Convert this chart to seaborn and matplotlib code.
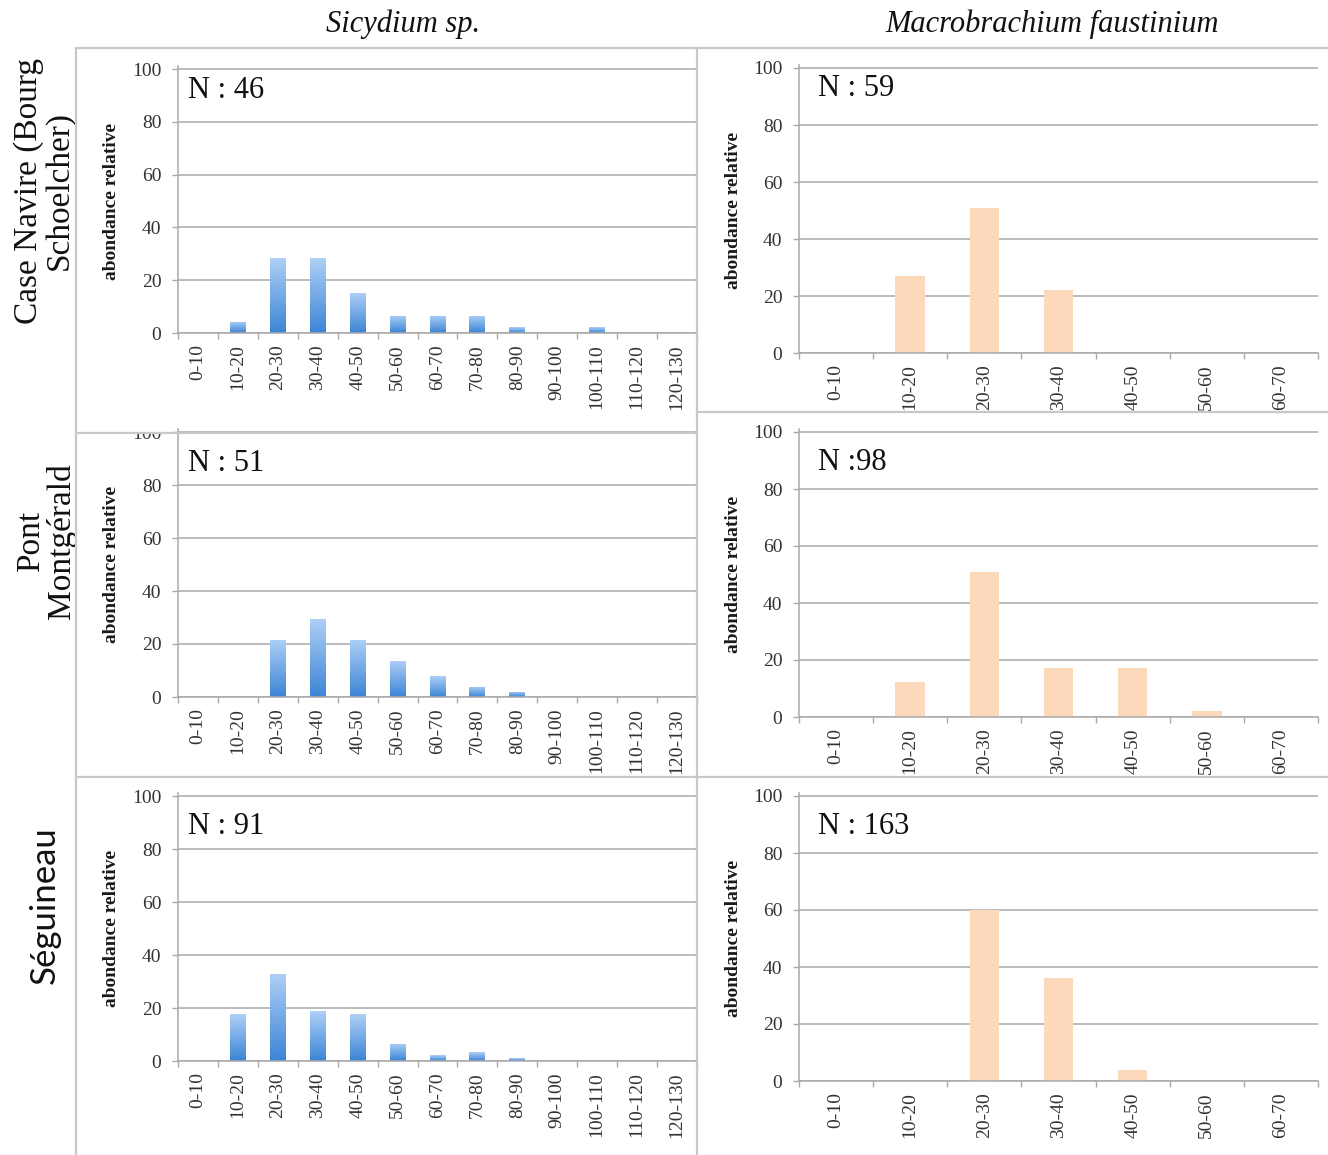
import numpy as np
import pandas as pd
import matplotlib
matplotlib.use("Agg")
import matplotlib.pyplot as plt
from matplotlib.colors import LinearSegmentedColormap
from matplotlib.lines import Line2D
from matplotlib.transforms import Bbox, TransformedBbox
import seaborn as sns

# Size classes (mm)
sicydium_classes = ["0-10", "10-20", "20-30", "30-40", "40-50", "50-60", "60-70",
                    "70-80", "80-90", "90-100", "100-110", "110-120", "120-130"]
macro_classes = ["0-10", "10-20", "20-30", "30-40", "40-50", "50-60", "60-70"]

species_titles = ["Sicydium sp.", "Macrobrachium faustinium"]
site_labels = ["Case Navire (Bourg\nSchoelcher)", "Pont\nMontgérald", "Séguineau"]

# Relative abundance (%) per size class
sicydium_case_navire = [0, 4.3, 28.3, 28.3, 15.2, 6.5, 6.5, 6.5, 2.2, 0, 2.2, 0, 0]
sicydium_pont = [0, 0, 21.6, 29.4, 21.6, 13.7, 7.8, 3.9, 2.0, 0, 0, 0, 0]
sicydium_seguineau = [0, 17.6, 33.0, 18.7, 17.6, 6.6, 2.2, 3.3, 1.1, 0, 0, 0, 0]

macro_case_navire = [0, 27.1, 50.8, 22.0, 0, 0, 0]
macro_pont = [0, 12.2, 51.0, 17.3, 17.3, 2.0, 0]
macro_seguineau = [0, 0, 60.1, 36.2, 3.7, 0, 0]

sicydium_n = ["N : 46", "N : 51", "N : 91"]
macro_n = ["N : 59", "N :98", "N : 163"]

y_ticks = [0, 20, 40, 60, 80, 100]
y_label = "abondance relative"

sns.set_theme(style="white")
plt.rcParams["font.family"] = ["Liberation Serif", "DejaVu Serif"]

W, H = 1328, 1155
fig = plt.figure(figsize=(W / 100, H / 100), dpi=100)
fig.patch.set_facecolor("white")


def fx(px):
    return px / W


def fy(py):
    return 1 - py / H


GRID = "#a9a9a9"
BORDER = "#c8c8c8"
TICKTXT = "#333333"
BLUE_GRAD = ["#3c84d6", "#aed0f6"]  # bottom -> top
PEACH = "#fcd9ba"

# panel layout in pixels: (axes x0, x1, y100, y0, box x0, x1, y0, y1)
left_geo = [(178, 697, 69, 333, 76, 697, 48, 433),
            (178, 697, 432, 697, 76, 697, 433, 777),
            (178, 697, 796, 1061, 76, 697, 777, 1155)]
right_geo = [(799, 1318, 68, 353, 697, 1328, 48, 412),
             (799, 1318, 432, 717, 697, 1328, 412, 777),
             (799, 1318, 796, 1081, 697, 1328, 777, 1155)]
n_offsets = [-21, -31, -30]


def draw_panel(geo, classes, values, color, gradient, n_text, n_off, ylab_x):
    ax_x0, ax_x1, y100, y0 = geo[:4]
    top = y100 - (y0 - y100) * 0.01
    ax = fig.add_axes([fx(ax_x0), fy(y0), (ax_x1 - ax_x0) / W, (y0 - top) / H])
    ax.set_facecolor("none")
    df = pd.DataFrame({"classe": classes, "abondance": values})
    sns.barplot(data=df, x="classe", y="abondance", order=classes, color=color,
                width=0.4, saturation=1, edgecolor="none", linewidth=0, ax=ax,
                zorder=3)
    n = len(classes)
    if gradient is not None:
        cmap = LinearSegmentedColormap.from_list("bar_grad", gradient)
        grad = np.linspace(0, 1, 256).reshape(-1, 1)
        for p in ax.patches:
            x, y = p.get_x(), p.get_y()
            w, h = p.get_width(), p.get_height()
            if h <= 0:
                continue
            im = ax.imshow(grad, extent=[x, x + w, y, y + h], origin="lower",
                           aspect="auto", cmap=cmap, zorder=3.5,
                           interpolation="bilinear")
            im.set_clip_path(p)
    ax.set_xlim(-0.5, n - 0.5)
    ax.set_ylim(0, 101)
    ax.set_yticks(y_ticks)
    ax.set_xticks(range(n))
    ax.set_xticklabels(classes)
    ax.set_xticks(np.arange(-0.5, n, 1), minor=True)
    ax.yaxis.grid(True, color=GRID, linewidth=1.1)
    ax.xaxis.grid(False)
    ax.set_axisbelow(True)
    for s in ["top", "right"]:
        ax.spines[s].set_visible(False)
    for s in ["left", "bottom"]:
        ax.spines[s].set_color(GRID)
        ax.spines[s].set_linewidth(1.1)
        ax.spines[s].set_zorder(4)
    ax.tick_params(axis="x", which="major", length=0, pad=8, labelsize=14,
                   labelcolor=TICKTXT, labelrotation=90)
    ax.tick_params(axis="x", which="minor", length=4.5, width=1.0, color=GRID,
                   direction="out", bottom=True)
    ax.tick_params(axis="y", which="major", length=4, width=1.0, color=GRID,
                   direction="out", left=True, pad=8, labelsize=14,
                   labelcolor=TICKTXT)
    ax.set_xlabel("")
    ax.set_ylabel(y_label, fontsize=14, fontweight="bold", color="#1a1a1a")
    ax.yaxis.label.set_va("center")
    ax.yaxis.set_label_coords(ylab_x, (y0 - (y0 + y100) / 2) / (y0 - top))
    ax.annotate(n_text, xy=(0, 100), xycoords=("axes fraction", "data"),
                xytext=(14 if ax_x0 > 700 else 7, n_off * 0.72),
                textcoords="offset points", ha="left", va="center",
                fontsize=22, color="#111111")
    return ax


panels = []
sic_vals = [sicydium_case_navire, sicydium_pont, sicydium_seguineau]
mac_vals = [macro_case_navire, macro_pont, macro_seguineau]
for i in range(3):
    a = draw_panel(left_geo[i], sicydium_classes, sic_vals[i], BLUE_GRAD[0],
                   BLUE_GRAD, sicydium_n[i], n_offsets[i], -0.129)
    panels.append((a, left_geo[i]))
    b = draw_panel(right_geo[i], macro_classes, mac_vals[i], PEACH,
                   None, macro_n[i], n_offsets[i], -0.127)
    panels.append((b, right_geo[i]))

# Chart frame borders
border_segments = [
    ((76, 48), (1328, 48)),
    ((76, 48), (76, 1155)),
    ((697, 48), (697, 1155)),
    ((76, 433), (697, 433)),
    ((697, 412), (1328, 412)),
    ((76, 777), (1328, 777)),
]
for (x0, y0), (x1, y1) in border_segments:
    fig.add_artist(Line2D([fx(x0), fx(x1)], [fy(y0), fy(y1)],
                          transform=fig.transFigure, color=BORDER, lw=1.6,
                          zorder=10))

# Column titles
fig.text(fx(403), fy(24), species_titles[0], ha="center", va="center",
         fontsize=22, style="italic", color="#111111")
fig.text(fx(1052), fy(24), species_titles[1], ha="center", va="center",
         fontsize=22, style="italic", color="#111111")

# Site labels
fig.text(fx(44), fy(191), site_labels[0], rotation=90, ha="center", va="center",
         multialignment="center", fontsize=24, linespacing=1.0, color="#111111")
fig.text(fx(46), fy(541), site_labels[1], rotation=90, ha="center", va="center",
         multialignment="center", fontsize=24, linespacing=1.0, color="#111111")
fig.text(fx(45), fy(905), site_labels[2], rotation=90, ha="center", va="center",
         fontsize=25, family=["Lato", "DejaVu Sans"], color="#111111")

# Clip each chart's tick labels to its own frame
fig.canvas.draw()
for ax, geo in panels:
    bx0, bx1, by0, by1 = geo[4:]
    clip = TransformedBbox(Bbox.from_extents(fx(bx0), fy(by1), fx(bx1), fy(by0)),
                           fig.transFigure)
    for lab in ax.get_xticklabels() + ax.get_yticklabels():
        lab.set_clip_box(clip)
        lab.set_clip_on(True)

fig.savefig("out.png", dpi=100, facecolor="white")
